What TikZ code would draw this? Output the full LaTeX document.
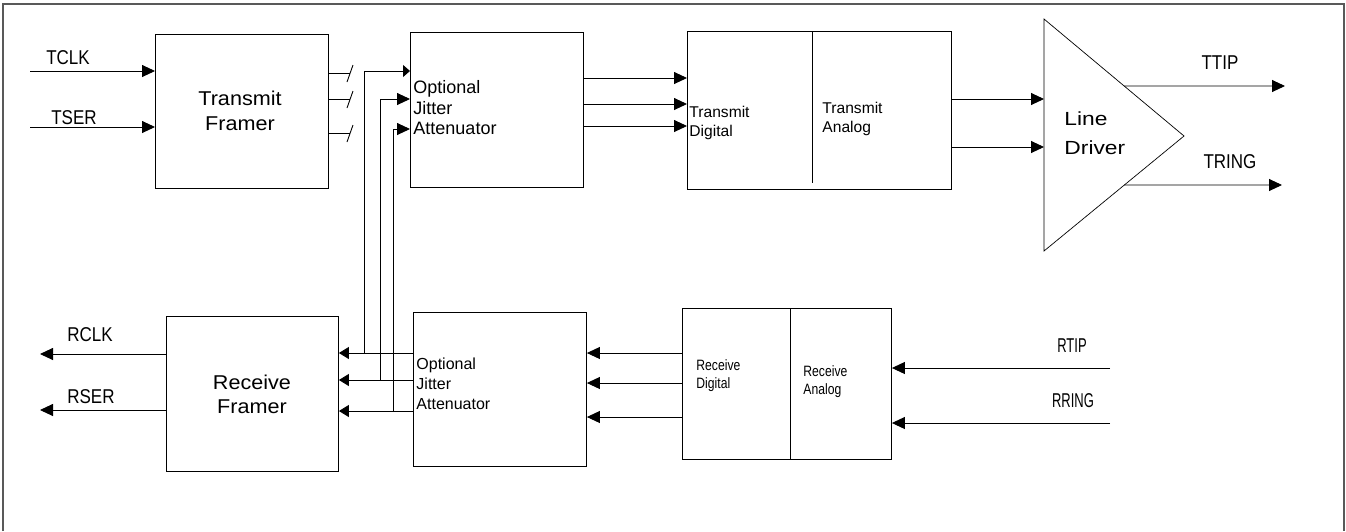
\documentclass[tikz,border=0pt]{standalone}
\usepackage{fontspec}
\setmainfont{Liberation Sans}
\newfontfamily\labfont[FakeStretch=0.85]{Liberation Sans}
\newfontfamily\labnfont[FakeStretch=0.65]{Liberation Sans}
\newfontfamily\condfont[FakeStretch=0.81]{Liberation Sans}
\newfontfamily\widefont[FakeStretch=1.08]{Liberation Sans}
\newfontfamily\widerfont[FakeStretch=1.2]{Liberation Sans}
\usetikzlibrary{arrows.meta,calc}
\begin{document}
\begin{tikzpicture}[x=1pt,y=-1pt,line width=0.9pt,
  blk/.style={draw, inner sep=0pt, anchor=north west},
  arr/.style={-{Triangle[length=13pt,width=12pt]}},
  sarr/.style={-{Triangle[length=7pt,width=12pt]}},
  marr/.style={-{Triangle[length=10pt,width=12pt]}},
  lbl/.style={inner sep=0pt, font=\labfont\fontsize{20}{24}\selectfont},
  lbln/.style={inner sep=0pt, font=\labnfont\fontsize{20}{24}\selectfont},
  txt/.style={inner sep=0pt, align=left, anchor=west}]
\useasboundingbox (0,0) rectangle (1346,531);
\draw[black!65, line width=1.5pt] (3,531) -- (3,4) -- (1344,4) -- (1344,531);

% blocks
\node[blk, minimum width=173pt, minimum height=154pt] (tf) at (155,34) {};
\node[blk, minimum width=173pt, minimum height=155pt] (ja1) at (410,32) {};
\node[blk, minimum width=264pt, minimum height=158pt] (td) at (687,31) {};
\node[blk, minimum width=172pt, minimum height=155pt] (rf) at (166,316) {};
\node[blk, minimum width=173pt, minimum height=154pt] (ja2) at (413,312) {};
\node[blk, minimum width=209pt, minimum height=151pt] (rd) at (682,308) {};
\draw (812,31) -- (812,183);
\draw (790,308) -- (790,459);
\coordinate (ldA) at (1044,19);
\coordinate (ldB) at (1044,251);
\coordinate (ldC) at (1184,136);
\draw[line width=0.7pt] (ldA) -- (ldC) -- (ldB) -- cycle;

% block texts
\node[inner sep=0pt, align=center, font=\widefont\fontsize{20}{25}\selectfont] (tft) at (240,111) {Transmit\\Framer};
\node[inner sep=0pt, align=center, font=\widefont\fontsize{20}{24}\selectfont] (rft) at (252,394) {Receive\\Framer};
\node[txt, font=\fontsize{18}{20.5}\selectfont] (ja1t) at (413,108) {Optional\\Jitter\\Attenuator};
\node[txt, font=\fontsize{16}{20}\selectfont] (ja2t) at (416,384) {Optional\\Jitter\\Attenuator};
\node[txt, font=\fontsize{15.6}{19}\selectfont] (tdt) at (689,123) {Transmit\\Digital};
\node[txt, font=\fontsize{15.6}{19}\selectfont] (tat) at (822,119) {Transmit\\Analog};
\node[txt, font=\condfont\fontsize{15}{18}\selectfont] (rdt) at (696,376) {Receive\\Digital};
\node[txt, font=\condfont\fontsize{15}{18}\selectfont] (rat) at (803,382) {Receive\\Analog};
\node[txt, font=\widerfont\fontsize{19}{29}\selectfont] (ldt) at (1064,133) {Line\\Driver};

% labels
\node[lbl] (tclkl) at (68,58) {TCLK};
\node[lbl] (tserl) at (74,118) {TSER};
\node[lbl] (rclkl) at (90,335) {RCLK};
\node[lbl] (rserl) at (91,397) {RSER};
\node[lbl] (ttipl) at (1220,63) {TTIP};
\node[lbl] (tringl) at (1230,162) {TRING};
\node[lbln] (rtipl) at (1072,346) {RTIP};
\node[lbln] (rringl) at (1073,401) {RRING};

% transmit inputs
\coordinate (tclk) at (30,71);
\coordinate (tser) at (30,127);
\draw[arr] (tclk) -- (tclk -| tf.west);
\draw[arr] (tser) -- (tser -| tf.west);

% bus stubs from transmit framer
\foreach \n/\y in {1/73,2/99,3/133}{
  \coordinate (b\n) at (350,\y);
  \draw (b\n -| tf.east) -- (b\n);
  \draw ([shift={(-3,9)}]b\n) -- ([shift={(3,-8)}]b\n);
}

% loop-back wires from lower JA to receive framer and up to upper JA
\coordinate (j1) at (364,353);
\coordinate (j2) at (380,380);
\coordinate (j3) at (393,411);
\coordinate (i1) at (400,71);
\coordinate (i2) at (400,99);
\coordinate (i3) at (400,129);
\draw[marr] (j1 -| ja2.west) -- (j1 -| rf.east);
\draw[marr] (j2 -| ja2.west) -- (j2 -| rf.east);
\draw[marr] (j3 -| ja2.west) -- (j3 -| rf.east);
\draw[sarr] (j1) |- (i1 -| ja1.west);
\draw[arr] (j2) |- (i2 -| ja1.west);
\draw[arr] (j3) |- (i3 -| ja1.west);

% upper JA to transmit digital
\foreach \n/\y in {1/78,2/104,3/126}{
  \coordinate (t\n) at (600,\y);
  \draw[arr] (t\n -| ja1.east) -- (t\n -| td.west);
}
% transmit analog to line driver
\foreach \n/\y in {1/99,2/147}{
  \coordinate (a\n) at (1000,\y);
  \draw[arr] (a\n -| td.east) -- (a\n -| ldA);
}
% line driver outputs
\coordinate (tt0) at ($(ldA)!0.5726!(ldC)$);
\coordinate (tt1) at (1285,86);
\coordinate (tr0) at ($(ldC)!0.426!(ldB)$);
\coordinate (tr1) at (1282,185);
\draw[arr] (tt0) -- (tt1);
\draw[arr] (tr0) -- (tr1);

% receive side
\coordinate (rtip) at (1110,368);
\coordinate (rring) at (1110,423);
\draw[arr] (rtip) -- (rtip -| rd.east);
\draw[arr] (rring) -- (rring -| rd.east);
\foreach \n/\y in {1/353,2/383,3/417}{
  \coordinate (r\n) at (600,\y);
  \draw[arr] (r\n -| rd.west) -- (r\n -| ja2.east);
}
\coordinate (rclk) at (40,354);
\coordinate (rser) at (40,410);
\draw[arr] (rclk -| rf.west) -- (rclk);
\draw[arr] (rser -| rf.west) -- (rser);
\end{tikzpicture}
\end{document}
